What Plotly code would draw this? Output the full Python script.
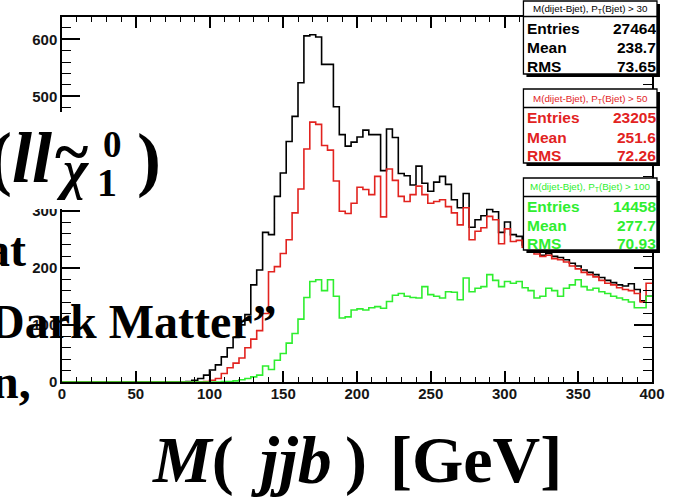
import plotly.graph_objects as go

# ---------------- data (100 bins of 4 GeV, 0-400) ----------------
BIN_WIDTH = 4
N_BINS = 100
bin_lo = [i * BIN_WIDTH for i in range(N_BINS)]

black_pt30 = [0] * 21 + [
    1, 3, 6, 12, 21, 30, 44, 60, 78, 100, 118, 170, 196, 262, 258, 325, 366, 421, 465, 524,
    606, 608, 604, 556, 556, 482, 433, 413, 420, 429, 441, 433, 433, 370, 443, 428, 365, 361,
    345, 378, 348, 334, 350, 360, 346, 319, 305, 330, 271, 284, 291, 302, 298, 262, 280, 258,
    255, 240, 232, 228, 222, 225, 220, 218, 214, 208, 203, 196, 192, 188, 183, 178, 174, 170,
    168, 172, 162, 142, 150]

red_pt50 = [0] * 24 + [
    1, 3, 6, 15, 25, 33, 42, 60, 75, 90, 120, 193, 202, 225, 249, 296, 338, 408, 455, 451,
    414, 406, 352, 299, 295, 313, 341, 337, 328, 360, 289, 373, 353, 325, 316, 328, 343, 328,
    313, 316, 319, 307, 296, 275, 305, 249, 264, 270, 290, 284, 242, 268, 246, 248, 236, 230,
    224, 220, 222, 216, 214, 210, 203, 198, 192, 188, 184, 178, 173, 170, 165, 162, 160, 155,
    140, 173]

green_pt100 = [0] * 27 + [
    1, 1, 2, 4, 6, 9, 12, 28, 22, 38, 50, 68, 85, 110, 148, 176, 179, 160, 179, 150, 112,
    114, 126, 128, 126, 130, 132, 129, 141, 152, 155, 150, 148, 147, 167, 153, 150, 147, 158,
    157, 144, 182, 158, 164, 167, 188, 178, 167, 176, 173, 176, 165, 160, 147, 150, 164, 160,
    150, 164, 170, 179, 167, 161, 164, 158, 155, 150, 147, 144, 140, 130, 130, 150]

series_names = ["P<sub>T</sub>(Bjet) &gt; 30", "P<sub>T</sub>(Bjet) &gt; 50", "P<sub>T</sub>(Bjet) &gt; 100"]
stats_entries = ["27464", "23205", "14458"]
stats_mean = ["238.7", "251.6", "277.7"]
stats_rms = ["73.65", "72.26", "70.93"]

x_ticks = [0, 50, 100, 150, 200, 250, 300, 350, 400]
y_ticks = [0, 100, 200, 300, 400, 500, 600]

# ---------------- styling ----------------
W, H = 677, 498
PL, PR, PT, PB = 62, 654, 17, 382
BLACK, RED, GREEN = "#000000", "#e2231f", "#2fee2f"
colors = [BLACK, RED, GREEN]


def px(x):
    return (x - PL) / (PR - PL)


def py(y):
    return (PB - y) / (PB - PT)


fig = go.Figure()
for vals, col in zip([black_pt30, red_pt50, green_pt100], colors):
    fig.add_trace(go.Scatter(
        x=bin_lo + [bin_lo[-1] + BIN_WIDTH], y=vals + [vals[-1]],
        mode="lines", line=dict(color=col, width=1.6, shape="hv"),
        hoverinfo="skip", showlegend=False))

axis_font = dict(family="Liberation Sans", size=15, color="#151515", weight="bold")
fig.update_xaxes(range=[0, 400], tickvals=x_ticks, ticktext=[str(v) for v in x_ticks],
                 ticks="inside", ticklen=11, tickwidth=1.5, tickcolor="black",
                 minor=dict(ticks="inside", ticklen=5, dtick=10, tickwidth=1.2, tickcolor="black"),
                 showline=True, linecolor="black", linewidth=1.5, mirror="ticks",
                 showgrid=False, zeroline=False, tickfont=axis_font, ticklabelstandoff=-3)
fig.update_yaxes(range=[0, 639], tickvals=y_ticks, ticktext=[str(v) for v in y_ticks],
                 ticks="inside", ticklen=18, tickwidth=1.5, tickcolor="black",
                 minor=dict(ticks="inside", ticklen=9, dtick=20, tickwidth=1.2, tickcolor="black"),
                 showline=True, linecolor="black", linewidth=1.5, mirror="ticks",
                 showgrid=False, zeroline=False, tickfont=axis_font)

shapes = []
annotations = []


def ann(text, x, y, size, color="black", xanchor="center", yanchor="middle",
        family="Liberation Sans"):
    annotations.append(dict(text=text, x=px(x), y=py(y), xref="paper", yref="paper",
                            showarrow=False, xanchor=xanchor, yanchor=yanchor,
                            font=dict(size=size, color=color, family=family)))


def rect(x0, y0, x1, y1, fill, line_col=None, lw=0):
    shapes.append(dict(type="rect", xref="paper", yref="paper",
                       x0=px(x0), x1=px(x1), y0=py(y1), y1=py(y0),
                       fillcolor=fill, layer="above",
                       line=dict(color=line_col or fill, width=lw)))


def hline(x0, x1, y, col="black", lw=1.3):
    shapes.append(dict(type="line", xref="paper", yref="paper",
                       x0=px(x0), x1=px(x1), y0=py(y), y1=py(y), layer="above",
                       line=dict(color=col, width=lw)))


# ---------------- stat boxes ----------------
boxes = [  # (top, bottom, sep, title_y, row ys)
    (1, 74, 16.5, 9, (29, 47.5, 66)),
    (89, 163, 107.5, 98.5, (117, 137, 155)),
    (178, 250, 196.5, 187, (206, 225.5, 243.5)),
]
BX0, BX1 = 525, 659
for i, (top, bot, sep, ty, rows) in enumerate(boxes):
    col = colors[i]
    rect(BX0 + 3, top + 3, BX1 + 3, bot + 3, "black")
    rect(BX0, top, BX1, bot, "white", "black", 1.3)
    hline(BX0, BX1, sep)
    ann("M(dijet-Bjet), " + series_names[i], (BX0 + BX1) / 2, ty, 9.8, col)
    for lab, val, yy in zip(["Entries", "Mean", "RMS"],
                            [stats_entries[i], stats_mean[i], stats_rms[i]], rows):
        ann("<b>" + lab + "</b>", BX0 + 2, yy, 15.5, col, xanchor="left")
        ann("<b>" + val + "</b>", BX1 + 1, yy, 15.5, col, xanchor="right")

# ---------------- slide overlay text ----------------
SERIF = "Liberation Serif"
rect(-5, 112, 165, 209, "white")
ann("<b>(<i>ll</i></b>", 54, 157.7, 72, xanchor="right", family=SERIF)
ann("<b><i>χ</i></b>", 73, 170, 54, family=SERIF)
ann("<b>~</b>", 72, 151.5, 64, family=SERIF)
ann("<b>0</b>", 113, 144.5, 37, family=SERIF)
ann("<b>1</b>", 107, 182, 40, family=SERIF)
ann("<b>)</b>", 149, 159, 72, family=SERIF)

ann("<b>at</b>", 28, 249, 48, xanchor="right", family=SERIF)
ann("<b>Dark Matter”</b>", 280, 321, 48, xanchor="right", family=SERIF)
ann("<b>n,</b>", 33, 381, 48, xanchor="right", family=SERIF)

ann("<b><i>M</i>(</b>", 150, 459.5, 66, xanchor="left", family=SERIF)
ann("<b><i>jjb</i></b>", 250, 459.5, 68, xanchor="left", family=SERIF)
ann("<b>)</b>", 344, 459.5, 66, xanchor="left", family=SERIF)
ann("<b>[GeV]</b>", 389, 459.5, 66, xanchor="left", family=SERIF)

fig.update_layout(width=W, height=H, autosize=False,
                  margin=dict(l=PL, r=W - PR, t=PT, b=H - PB, pad=0),
                  paper_bgcolor="white", plot_bgcolor="white",
                  shapes=shapes, annotations=annotations, showlegend=False)

fig.write_html("out.html", config={"displayModeBar": False},
               post_script="document.body.style.margin='0';document.body.style.overflow='hidden';")
